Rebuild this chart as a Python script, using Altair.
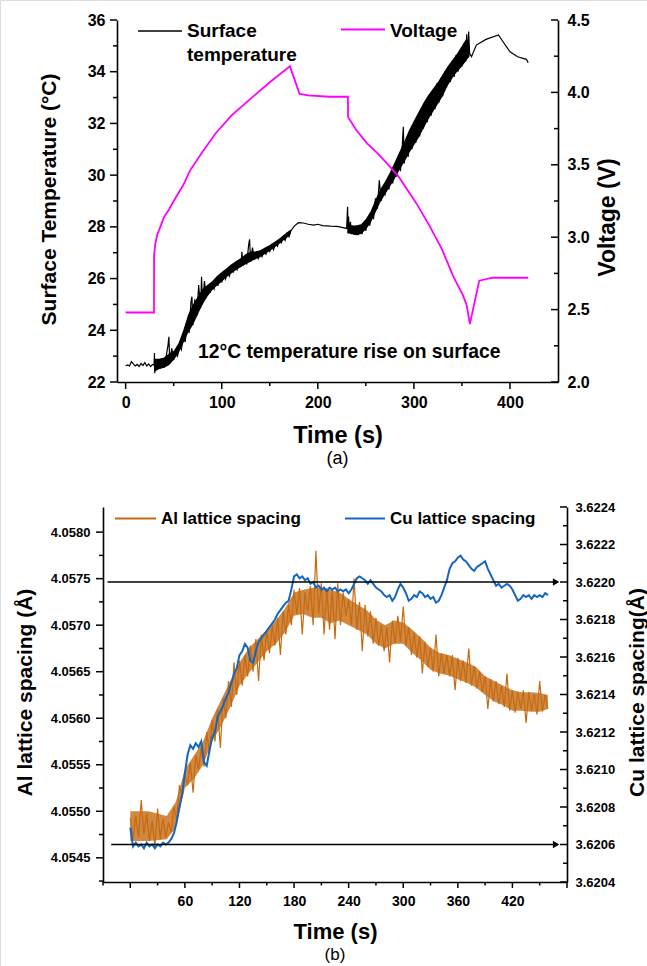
import altair as alt
import pandas as pd

FONT = "Liberation Sans"
PAGE_W, PAGE_H = 647, 966

# ---------------- Panel (a) data ----------------
temp_time = [0, 2, 4, 6, 8, 10, 12, 14, 16, 18, 20, 22, 24, 26, 28, 29.5, 30, 30.3, 31, 32,
             34, 36, 38, 40, 42, 44, 45, 46, 48, 50, 52, 54, 56, 58, 60, 62, 64, 66, 68, 69,
             70, 72, 74, 76, 78, 79, 80, 82, 84, 86, 88, 90, 92, 94, 96, 98, 100, 102, 104, 106,
             108, 110, 112, 114, 116, 118, 120, 121, 122, 124, 126, 128, 129, 130, 132, 134, 136, 138, 140, 142,
             144, 146, 148, 150, 152, 154, 156, 158, 160, 162, 164, 166, 168, 170, 172, 176, 180, 185, 190, 196,
             200, 205, 213, 220, 225, 230, 231, 231.5, 232, 233, 234, 235, 236, 238, 240, 242, 244, 246, 248, 250,
             252, 254, 256, 258, 260, 262, 264, 266, 268, 270, 272, 274, 276, 278, 280, 282, 284, 286, 288, 289,
             290, 292, 294, 296, 298, 300, 302, 304, 306, 308, 310, 312, 314, 316, 318, 320, 322, 324, 326, 328,
             330, 332, 334, 336, 338, 340, 342, 344, 346, 348, 350, 352, 354, 355, 356, 357, 358, 360, 365, 375,
             388, 393, 400, 408, 417, 419]
temp_vals = [22.63, 22.66, 22.62, 22.79, 22.70, 22.62, 22.68, 22.60, 22.72, 22.64, 22.75, 22.62, 22.70, 22.60, 22.68, 22.65, 23.12, 22.34, 22.85, 22.50,
             22.88, 22.52, 22.90, 22.55, 22.95, 23.40, 23.75, 22.70, 23.30, 22.85, 23.15, 23.00, 23.40, 23.25, 23.75, 23.55, 24.20, 23.90, 25.10, 25.30,
             24.20, 25.20, 24.55, 25.75, 24.85, 26.07, 25.00, 25.90, 25.30, 25.70, 25.45, 25.80, 25.60, 26.00, 25.72, 26.10, 25.85, 26.20, 25.98, 26.30,
             26.10, 26.45, 26.27, 26.55, 26.35, 26.65, 26.45, 27.04, 26.50, 26.85, 26.55, 27.30, 27.52, 26.65, 27.20, 26.72, 27.00, 26.78, 27.05, 26.85,
             27.10, 26.95, 27.20, 27.05, 27.30, 27.12, 27.38, 27.25, 27.50, 27.38, 27.62, 27.48, 27.75, 27.62, 27.85, 28.05, 28.16, 28.15, 28.10, 28.07,
             28.10, 28.05, 28.03, 28.02, 27.98, 27.94, 28.78, 27.75, 28.40, 27.80, 28.20, 27.72, 28.05, 27.70, 28.05, 27.68, 28.00, 27.72, 28.10, 27.85,
             28.30, 28.05, 28.55, 28.30, 29.10, 28.70, 29.80, 29.00, 29.40, 29.25, 29.70, 29.45, 30.00, 29.68, 30.40, 29.94, 30.70, 30.15, 31.20, 31.87,
             30.45, 31.40, 30.70, 31.70, 31.00, 32.00, 31.25, 32.30, 31.50, 32.60, 31.80, 32.85, 32.05, 33.10, 32.30, 33.30, 32.55, 33.55, 32.80, 33.75,
             33.05, 34.00, 33.40, 34.20, 33.60, 34.40, 33.80, 34.65, 34.00, 34.80, 34.20, 35.10, 34.40, 35.45, 34.55, 35.55, 34.71, 34.58, 35.03, 35.25,
             35.42, 35.15, 34.77, 34.58, 34.48, 34.35]

# envelope (lower / upper edge) of the dense noisy temperature band, two stretches
band1_time = [30, 35, 40, 45, 50, 55, 60, 65, 70, 75, 80, 85, 90, 95, 100, 105, 110, 115, 120, 125,
              130, 135, 140, 145, 150, 155, 160, 165, 170, 172]
band1_low = [22.40, 22.50, 22.55, 22.65, 22.85, 23.10, 23.50, 23.90, 24.20, 24.60, 25.00, 25.30, 25.55, 25.72, 25.88, 26.05, 26.20, 26.33, 26.45, 26.55,
             26.65, 26.75, 26.82, 26.95, 27.07, 27.20, 27.35, 27.50, 27.65, 27.75]
band1_high = [22.90, 22.90, 22.95, 23.10, 23.20, 23.50, 24.00, 24.60, 25.00, 25.30, 25.60, 25.75, 25.90, 26.10, 26.25, 26.40, 26.55, 26.68, 26.80, 26.95,
              27.05, 27.05, 27.10, 27.20, 27.30, 27.42, 27.55, 27.70, 27.85, 27.90]
band2_time = [231, 235, 240, 245, 250, 255, 260, 265, 270, 275, 280, 285, 290, 295, 300, 305, 310, 315, 320, 325,
              330, 335, 340, 345, 350, 355, 358]
band2_low = [27.75, 27.72, 27.68, 27.72, 27.90, 28.15, 28.55, 28.95, 29.25, 29.55, 29.85, 30.20, 30.50, 30.85, 31.15, 31.45, 31.80, 32.15, 32.45, 32.75,
             33.05, 33.45, 33.75, 34.00, 34.20, 34.45, 34.60]
band2_high = [28.20, 28.05, 28.05, 28.10, 28.30, 28.60, 29.05, 29.45, 29.75, 30.10, 30.50, 30.90, 31.30, 31.75, 32.10, 32.45, 32.80, 33.10, 33.35, 33.60,
              33.90, 34.20, 34.45, 34.70, 35.00, 35.30, 35.00]

volt_time = [0, 29.5, 29.6, 31, 33, 36, 40, 45, 50, 60, 67, 80, 94, 110, 129, 150, 171, 181, 190, 212,
             231.3, 231.5, 240, 251, 262, 272, 284, 293, 303, 317, 329, 341, 351, 355, 358.3, 368, 382, 419]
volt_vals = [2.48, 2.48, 2.88, 2.96, 3.02, 3.07, 3.14, 3.19, 3.25, 3.36, 3.46, 3.59, 3.72, 3.84, 3.95, 4.07, 4.18, 3.99, 3.98, 3.97,
             3.97, 3.83, 3.74, 3.65, 3.58, 3.51, 3.42, 3.33, 3.23, 3.07, 2.92, 2.73, 2.60, 2.53, 2.40, 2.70, 2.72, 2.72]

# ---------------- Panel (b) data ----------------
lat_time = list(range(0, 460, 3))
al_vals = [4.05493, 4.05470, 4.05495, 4.05472, 4.05512, 4.05475, 4.05498, 4.05468, 4.05490, 4.05462,
           4.05503, 4.05470, 4.05492, 4.05472, 4.05488, 4.05478, 4.05505, 4.05490, 4.05528, 4.05515,
           4.05540, 4.05528, 4.05552, 4.05520, 4.05560, 4.05545, 4.05568, 4.05548, 4.05585, 4.05562,
           4.05598, 4.05575, 4.05610, 4.05568, 4.05622, 4.05600, 4.05640, 4.05612, 4.05660, 4.05625,
           4.05662, 4.05635, 4.05668, 4.05645, 4.05678, 4.05650, 4.05685, 4.05640, 4.05690, 4.05662,
           4.05695, 4.05670, 4.05700, 4.05678, 4.05708, 4.05668, 4.05715, 4.05690, 4.05722, 4.05700,
           4.05738, 4.05712, 4.05740, 4.05690, 4.05735, 4.05715, 4.05742, 4.05700, 4.05780, 4.05712,
           4.05745, 4.05690, 4.05740, 4.05695, 4.05738, 4.05685, 4.05745, 4.05700, 4.05735, 4.05710,
           4.05728, 4.05700, 4.05750, 4.05695, 4.05725, 4.05672, 4.05722, 4.05688, 4.05715, 4.05680,
           4.05708, 4.05678, 4.05700, 4.05672, 4.05698, 4.05660, 4.05705, 4.05680, 4.05710, 4.05682,
           4.05720, 4.05678, 4.05698, 4.05668, 4.05692, 4.05665, 4.05688, 4.05648, 4.05682, 4.05655,
           4.05676, 4.05650, 4.05690, 4.05645, 4.05670, 4.05648, 4.05668, 4.05645, 4.05668, 4.05630,
           4.05665, 4.05640, 4.05662, 4.05638, 4.05675, 4.05635, 4.05656, 4.05632, 4.05650, 4.05628,
           4.05645, 4.05610, 4.05642, 4.05618, 4.05640, 4.05615, 4.05635, 4.05612, 4.05648, 4.05608,
           4.05630, 4.05606, 4.05628, 4.05610, 4.05630, 4.05595, 4.05628, 4.05608, 4.05626, 4.05604,
           4.05640, 4.05607, 4.05625, 4.05610]
cu_vals = [3.62069, 3.62059, 3.62061, 3.62059, 3.62060, 3.62058, 3.62061, 3.62059, 3.62060, 3.62058,
           3.62060, 3.62059, 3.62061, 3.62060, 3.62061, 3.62063, 3.62066, 3.62072, 3.62080, 3.62087,
           3.62098, 3.62108, 3.62113, 3.62111, 3.62114, 3.62112, 3.62115, 3.62104, 3.62102, 3.62110,
           3.62117, 3.62120, 3.62128, 3.62131, 3.62134, 3.62138, 3.62141, 3.62146, 3.62151, 3.62154,
           3.62161, 3.62163, 3.62167, 3.62165, 3.62158, 3.62157, 3.62163, 3.62168, 3.62170, 3.62172,
           3.62174, 3.62176, 3.62178, 3.62180, 3.62183, 3.62185, 3.62187, 3.62189, 3.62190, 3.62196,
           3.62203, 3.62204, 3.62202, 3.62203, 3.62201, 3.62202, 3.62199, 3.62200, 3.62197, 3.62198,
           3.62196, 3.62197, 3.62195, 3.62197, 3.62196, 3.62197, 3.62195, 3.62196, 3.62195, 3.62196,
           3.62194, 3.62196, 3.62199, 3.62202, 3.62203, 3.62202, 3.62201, 3.62199, 3.62201, 3.62199,
           3.62197, 3.62196, 3.62195, 3.62193, 3.62192, 3.62193, 3.62190, 3.62192, 3.62196, 3.62199,
           3.62197, 3.62194, 3.62190, 3.62191, 3.62193, 3.62192, 3.62195, 3.62194, 3.62192, 3.62193,
           3.62191, 3.62192, 3.62189, 3.62190, 3.62193, 3.62197, 3.62201, 3.62207, 3.62210, 3.62211,
           3.62213, 3.62214, 3.62212, 3.62211, 3.62209, 3.62207, 3.62206, 3.62208, 3.62209, 3.62210,
           3.62211, 3.62207, 3.62204, 3.62201, 3.62198, 3.62199, 3.62197, 3.62198, 3.62199, 3.62198,
           3.62196, 3.62193, 3.62190, 3.62191, 3.62193, 3.62192, 3.62193, 3.62191, 3.62193, 3.62192,
           3.62193, 3.62192, 3.62194, 3.62193]

# envelope of the dense Al noise band
al_band_time = [0, 20, 40, 50, 60, 70, 80, 90, 100, 110, 120, 130, 140, 150, 160, 170, 180, 190, 200, 210,
                220, 230, 240, 250, 260, 270, 280, 290, 300, 310, 320, 330, 340, 350, 360, 370, 380, 390, 400, 410,
                420, 430, 440, 450, 459]
al_band_low = [4.05468, 4.05468, 4.05470, 4.05482, 4.05525, 4.05535, 4.05550, 4.05575, 4.05592, 4.05612,
               4.05635, 4.05648, 4.05660, 4.05672, 4.05680, 4.05692, 4.05710, 4.05712, 4.05708, 4.05708,
               4.05702, 4.05705, 4.05700, 4.05695, 4.05690, 4.05680, 4.05675, 4.05680, 4.05680, 4.05670,
               4.05662, 4.05652, 4.05648, 4.05646, 4.05642, 4.05638, 4.05633, 4.05625, 4.05618, 4.05614,
               4.05608, 4.05608, 4.05607, 4.05607, 4.05610]
al_band_high = [4.05500, 4.05500, 4.05495, 4.05510, 4.05545, 4.05560, 4.05575, 4.05600, 4.05620, 4.05640,
                4.05660, 4.05675, 4.05685, 4.05695, 4.05705, 4.05718, 4.05735, 4.05738, 4.05740, 4.05740,
                4.05738, 4.05735, 4.05728, 4.05722, 4.05716, 4.05706, 4.05700, 4.05705, 4.05703, 4.05695,
                4.05686, 4.05676, 4.05670, 4.05668, 4.05664, 4.05660, 4.05655, 4.05645, 4.05640, 4.05635,
                4.05630, 4.05628, 4.05628, 4.05627, 4.05625]

arrow_levels = [3.6220, 3.6206]
arrow_start = [-25, -21]
arrow_end = [470, 470]
arrow_head = [468, 468]

# tick positions
a_x_major = [0, 100, 200, 300, 400]
a_x_minor = [50, 150, 250, 350]
a_yl_major = [22, 24, 26, 28, 30, 32, 34, 36]
a_yl_minor = [23, 25, 27, 29, 31, 33, 35]
a_yr_major = [2.0, 2.5, 3.0, 3.5, 4.0, 4.5]
a_yr_minor = [2.25, 2.75, 3.25, 3.75, 4.25]
b_x_labels = [60, 120, 180, 240, 300, 360, 420]
b_x_major = [0, 60, 120, 180, 240, 300, 360, 420, 480]
b_x_minor = [-30, 30, 90, 150, 210, 270, 330, 390, 450]
b_yl_major = [4.0545, 4.0550, 4.0555, 4.0560, 4.0565, 4.0570, 4.0575, 4.0580]
b_yl_minor = [4.05425, 4.05475, 4.05525, 4.05575, 4.05625, 4.05675, 4.05725, 4.05775]
b_yr_major = [3.6204, 3.6206, 3.6208, 3.6210, 3.6212, 3.6214, 3.6216, 3.6218, 3.6220, 3.6222, 3.6224]
b_yr_minor = [3.6205, 3.6207, 3.6209, 3.6211, 3.6213, 3.6215, 3.6217, 3.6219, 3.6221, 3.6223]

MAGENTA = "#FF00FF"
ORANGE = "#C66A12"
BLUE = "#1566C0"

# ---------------- page layout (pixels) ----------------
A_L, A_R, A_T, A_B = 117, 558, 20, 382      # panel (a) plot box
B_L, B_R, B_T, B_B = 103, 567, 507, 882     # panel (b) plot box

one = pd.DataFrame({"k": [0]})

common = dict(labelFont=FONT, labelFontWeight="bold", labelColor="black",
              titleFont=FONT, titleFontWeight="bold", titleColor="black",
              domainColor="black", domainWidth=1.6, tickSize=0, grid=False,
              labelOverlap=False, labelFlush=False, titleAlign="center", titleBaseline="middle")

xa = alt.Scale(domain=[-9, 450], range=[A_L, A_R], nice=False, zero=False)
ya_l = alt.Scale(domain=[22, 36], range=[A_B, A_T], nice=False, zero=False)
ya_r = alt.Scale(domain=[2.0, 4.5], range=[A_B, A_T], nice=False, zero=False)
xb = alt.Scale(domain=[-30, 480], range=[B_L, B_R], nice=False, zero=False)
yb_l = alt.Scale(domain=[4.05424, 4.05827], range=[B_B, B_T], nice=False, zero=False)
yb_r = alt.Scale(domain=[3.6204, 3.6224], range=[B_B, B_T], nice=False, zero=False)

AX_A = alt.Axis(orient="bottom", offset=A_B - PAGE_H, title="Time (s)", values=a_x_major, format="d",
                labelFontSize=16, labelPadding=12, titleFontSize=23.5,
                titleX=(A_L + A_R) / 2, titleY=53, titleAngle=0, **common)
AX_A_L = alt.Axis(orient="left", offset=-A_L, title="Surface Temperature (°C)", values=a_yl_major,
                  format="d", labelFontSize=16, labelPadding=12, titleFontSize=21,
                  titleX=-68, titleY=199, titleAngle=270, **common)
AX_A_R = alt.Axis(orient="right", offset=A_R - PAGE_W, title="Voltage (V)", values=a_yr_major,
                  format=".1f", labelFontSize=16, labelPadding=9, titleFontSize=23,
                  titleX=49, titleY=217, titleAngle=270, **common)
AX_B = alt.Axis(orient="bottom", offset=B_B - PAGE_H, title="Time (s)", values=b_x_labels, format="d",
                labelFontSize=14, labelPadding=12, titleFontSize=22,
                titleX=(B_L + B_R) / 2, titleY=49, titleAngle=0, **common)
AX_B_L = alt.Axis(orient="left", offset=-B_L, title="Al lattice spacing (Å)", values=b_yl_major,
                  format=".4f", labelFontSize=13, labelPadding=13, titleFontSize=21,
                  titleX=-78, titleY=692, titleAngle=270, **common)
AX_B_R = alt.Axis(orient="right", offset=B_R - PAGE_W, title="Cu lattice spacing(Å)",
                  values=b_yr_major, format=".4f", labelFontSize=13, labelPadding=8,
                  titleFontSize=21, titleX=70, titleY=692, titleAngle=270, **common)


def hrule(x1, x2, y, color, width):
    return alt.Chart(one).mark_rule(color=color, strokeWidth=width).encode(
        x=alt.value(x1), x2=alt.value(x2), y=alt.value(y))


def text(t, x, y, size, weight="bold", align="left"):
    return alt.Chart(one).mark_text(text=t, font=FONT, fontSize=size, fontWeight=weight,
                                    align=align, baseline="middle", color="black").encode(
        x=alt.value(x), y=alt.value(y))


def yticks(vals, scale, x1, x2):
    return alt.Chart(pd.DataFrame({"v": vals})).mark_rule(color="black", strokeWidth=1.5).encode(
        y=alt.Y("v:Q", scale=scale, axis=None), x=alt.value(x1), x2=alt.value(x2))


def xticks(vals, scale, y1, y2):
    return alt.Chart(pd.DataFrame({"v": vals})).mark_rule(color="black", strokeWidth=1.5).encode(
        x=alt.X("v:Q", scale=scale, axis=None), y=alt.value(y1), y2=alt.value(y2))


def band(times, lows, highs, xscale, yscale, color, opacity):
    df = pd.DataFrame({"t": times, "lo": lows, "hi": highs})
    return alt.Chart(df).mark_area(color=color, opacity=opacity).encode(
        x=alt.X("t:Q", scale=xscale, axis=None),
        y=alt.Y("lo:Q", scale=yscale, axis=None),
        y2=alt.Y2("hi"))


# ---------------- Panel (a) ----------------
df_temp = pd.DataFrame({"t": temp_time, "T": temp_vals})
df_volt = pd.DataFrame({"t": volt_time, "V": volt_vals})

temp_line = alt.Chart(df_temp).mark_line(color="black", strokeWidth=1.2).encode(
    x=alt.X("t:Q", scale=xa, axis=AX_A),
    y=alt.Y("T:Q", scale=ya_l, axis=AX_A_L),
    order="t:Q")

volt_line = alt.Chart(df_volt).mark_line(color=MAGENTA, strokeWidth=1.8).encode(
    x=alt.X("t:Q", scale=xa, axis=None),
    y=alt.Y("V:Q", scale=ya_r, axis=AX_A_R),
    order="t:Q")

layers_a = [
    temp_line,
    band(band1_time, band1_low, band1_high, xa, ya_l, "black", 1),
    band(band2_time, band2_low, band2_high, xa, ya_l, "black", 1),
    volt_line,
    xticks(a_x_major, xa, A_B, A_B + 7), xticks(a_x_minor, xa, A_B, A_B + 4),
    yticks(a_yl_major, ya_l, A_L - 7, A_L), yticks(a_yl_minor, ya_l, A_L - 4, A_L),
    yticks(a_yr_major, ya_r, A_R - 7, A_R), yticks(a_yr_minor, ya_r, A_R - 4, A_R),
    hrule(138, 182, 31, "black", 1.5), text("Surface", 187, 31, 19), text("temperature", 187, 55, 19),
    hrule(341, 385, 29.5, MAGENTA, 1.8), text("Voltage", 390, 30.5, 19),
    text("12°C temperature rise on surface", 198, 352, 19.3),
    text("(a)", (A_L + A_R) / 2, 459, 18, weight="normal", align="center"),
]

# ---------------- Panel (b) ----------------
n = min(len(lat_time), len(al_vals), len(cu_vals))
df_lat = pd.DataFrame({"t": lat_time[:n], "al": al_vals[:n], "cu": cu_vals[:n]})
df_arrow = pd.DataFrame({"x0": arrow_start, "x1": arrow_end, "xh": arrow_head, "y": arrow_levels})

al_line = alt.Chart(df_lat).mark_line(color=ORANGE, strokeWidth=1.2).encode(
    x=alt.X("t:Q", scale=xb, axis=AX_B),
    y=alt.Y("al:Q", scale=yb_l, axis=AX_B_L),
    order="t:Q")

cu_line = alt.Chart(df_lat).mark_line(color=BLUE, strokeWidth=2).encode(
    x=alt.X("t:Q", scale=xb, axis=None),
    y=alt.Y("cu:Q", scale=yb_r, axis=AX_B_R),
    order="t:Q")

arrow_lines = alt.Chart(df_arrow).mark_rule(color="black", strokeWidth=1.5).encode(
    x=alt.X("x0:Q", scale=xb, axis=None), x2="x1:Q",
    y=alt.Y("y:Q", scale=yb_r, axis=None))
arrow_heads = alt.Chart(df_arrow).mark_point(shape="triangle-right", filled=True, color="black",
                                             size=55, opacity=1).encode(
    x=alt.X("xh:Q", scale=xb, axis=None),
    y=alt.Y("y:Q", scale=yb_r, axis=None))

layers_b = [
    band(al_band_time, al_band_low, al_band_high, xb, yb_l, ORANGE, 0.8),
    al_line,
    cu_line, arrow_lines, arrow_heads,
    xticks(b_x_major, xb, B_B, B_B + 6), xticks(b_x_minor, xb, B_B, B_B + 3.5),
    yticks(b_yl_major, yb_l, B_L - 7, B_L), yticks(b_yl_minor, yb_l, B_L - 4, B_L),
    yticks(b_yr_major, yb_r, B_R - 7, B_R), yticks(b_yr_minor, yb_r, B_R - 4, B_R),
    hrule(115, 156, 518.5, ORANGE, 1.8), text("Al lattice spacing", 161, 519, 17),
    hrule(345, 385, 518.5, BLUE, 2), text("Cu lattice spacing", 390, 519, 17),
    text("(b)", (B_L + B_R) / 2, 955, 17, weight="normal", align="center"),
]

chart = alt.layer(*layers_a, *layers_b).resolve_scale(
    x="independent", y="independent"
).properties(
    width=PAGE_W, height=PAGE_H,
    autosize=alt.AutoSizeParams(type="none"),
    padding={"left": 0, "top": 0, "right": 0, "bottom": 0},
).configure_view(stroke=None).configure(background="white")

chart.save("out.html", embed_options={"renderer": "svg", "actions": False})
